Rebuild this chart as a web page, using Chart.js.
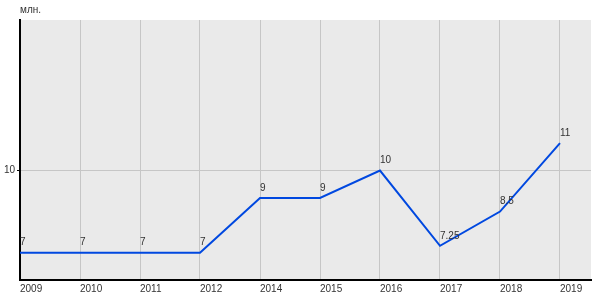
<!DOCTYPE html>
<html>
<head>
<meta charset="utf-8">
<script src="https://cdn.jsdelivr.net/npm/chart.js@4"></script>
<style>
  body { margin: 0; background: #fff; }
  #wrap { position: relative; width: 600px; height: 300px; }
</style>
</head>
<body>
<div id="wrap"><canvas id="myChart" width="600" height="300"></canvas></div>
<script>
var years = ["2009", "2010", "2011", "2012", "2014", "2015", "2016", "2017", "2018", "2019"];
var values = [7, 7, 7, 7, 9, 9, 10, 7.25, 8.5, 11];
var valueLabels = ["7", "7", "7", "7", "9", "9", "10", "7.25", "8.5", "11"];
var unitLabel = "млн.";

// area fill + point labels
var extras = {
    id: 'extras',
    beforeDraw: function (chart) {
        var a = chart.chartArea, ctx = chart.ctx;
        ctx.save();
        ctx.fillStyle = '#eaeaea';
        ctx.fillRect(a.left, a.top, a.right - a.left, a.bottom - a.top);
        ctx.restore();
    },
    afterDatasetsDraw: function (chart) {
        var ctx = chart.ctx;
        var meta = chart.getDatasetMeta(0);
        ctx.save();
        ctx.font = '10px "Liberation Sans", Arial, sans-serif';
        ctx.fillStyle = '#333';
        ctx.textAlign = 'left';
        ctx.textBaseline = 'bottom';
        meta.data.forEach(function (p, i) {
            ctx.fillText(valueLabels[i], p.x, p.y - 5);
        });
        ctx.fillText(unitLabel, chart.chartArea.left, 15);
        ctx.restore();
    }
};

var ctx = document.getElementById("myChart").getContext('2d');
var myChart = new Chart(ctx, {
    type: 'line',
    data: {
        datasets: [{
            data: values.map(function (v, i) { return { x: i, y: v }; }),
            borderColor: '#0048e0',
            borderWidth: 2,
            pointRadius: 0,
            tension: 0,
            fill: false
        }]
    },
    options: {
        responsive: false,
        animation: false,
        layout: { padding: { top: 20, right: 9, left: 0, bottom: 0 } },
        plugins: { legend: { display: false }, tooltip: { enabled: false } },
        scales: {
            x: {
                type: 'linear',
                min: 0,
                max: 571 / 60,
                afterFit: function (s) { s.height = 20; },
                afterBuildTicks: function (s) {
                    s.ticks = years.map(function (y, i) { return { value: i }; });
                },
                grid: { color: '#c6c6c6', drawTicks: false },
                border: { color: '#000', width: 2 },
                ticks: {
                    autoSkip: false,
                    maxRotation: 0,
                    align: 'start',
                    padding: 3,
                    color: '#333',
                    font: { size: 10, family: '"Liberation Sans", Arial, sans-serif' },
                    callback: function (v) { return years[v]; }
                }
            },
            y: {
                min: 6,
                max: 15.5,
                afterFit: function (s) { s.width = 20; },
                afterBuildTicks: function (s) { s.ticks = [{ value: 10 }]; },
                grid: { color: '#c6c6c6', tickLength: 3, tickColor: '#000' },
                border: { color: '#000', width: 2 },
                ticks: {
                    padding: 2,
                    color: '#333',
                    font: { size: 10, family: '"Liberation Sans", Arial, sans-serif' }
                }
            }
        }
    },
    plugins: [extras]
});
</script>
</body>
</html>
